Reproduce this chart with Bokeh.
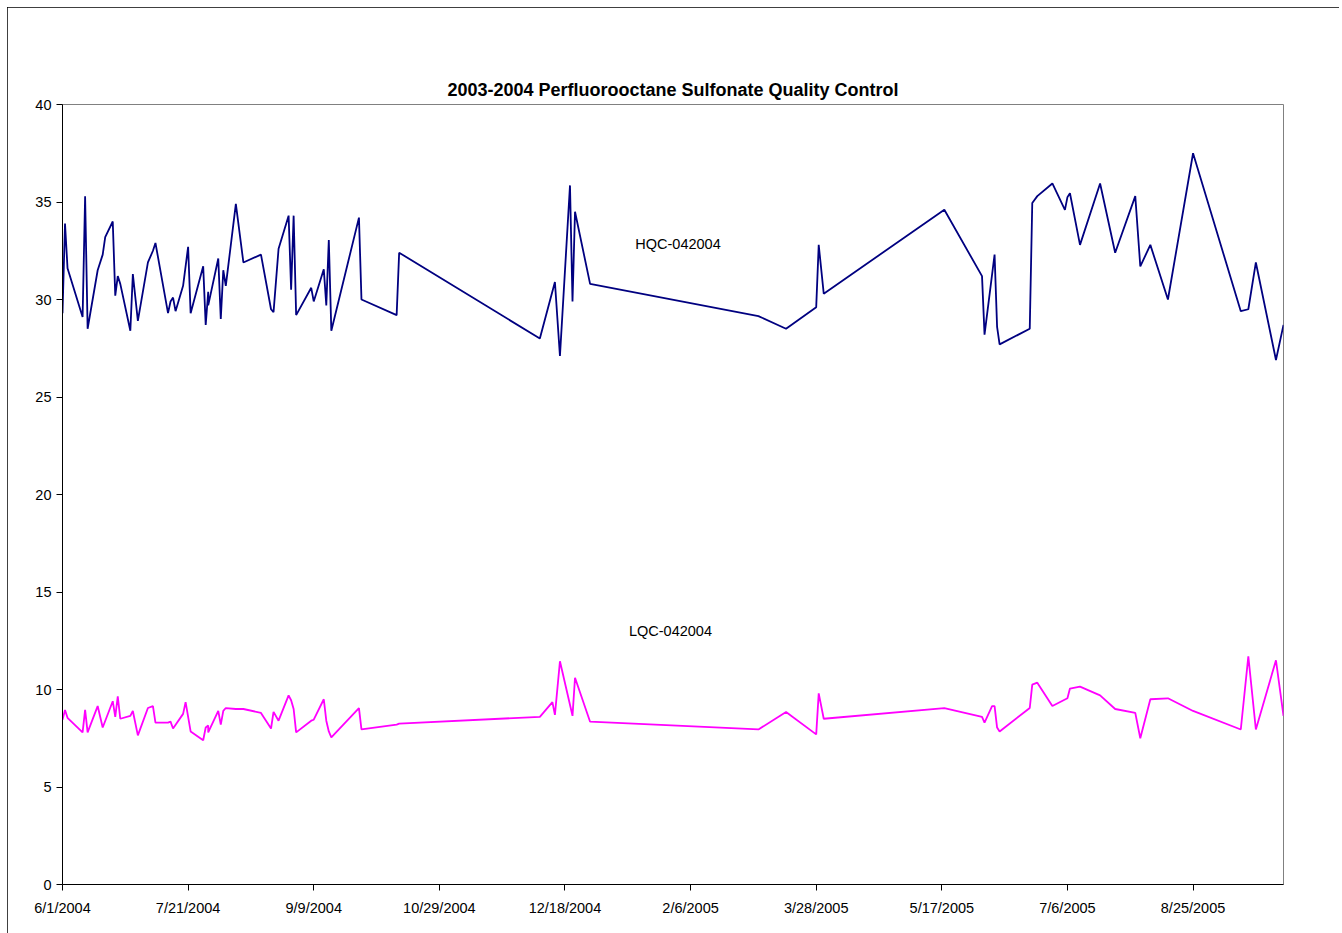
from datetime import datetime, timedelta
import pandas as pd
from bokeh.plotting import figure
from bokeh.models import Range1d, FixedTicker, CustomJSTickFormatter, Label, Title
from bokeh.embed import file_html
from bokeh.resources import INLINE

title_text = "2003-2004 Perfluorooctane Sulfonate Quality Control"

hqc_name = "HQC-042004"
hqc_dates = [
    "6/1/2004", "6/2/2004", "6/3/2004", "6/9/2004", "6/10/2004", "6/11/2004", "6/15/2004",
    "6/17/2004", "6/18/2004", "6/21/2004", "6/22/2004", "6/23/2004", "6/24/2004", "6/28/2004",
    "6/29/2004", "7/1/2004", "7/5/2004", "7/7/2004", "7/8/2004", "7/13/2004", "7/14/2004",
    "7/15/2004", "7/16/2004", "7/19/2004", "7/21/2004", "7/22/2004", "7/27/2004", "7/28/2004",
    "7/29/2004", "7/29/2004", "8/2/2004", "8/3/2004", "8/4/2004", "8/5/2004", "8/9/2004",
    "8/12/2004", "8/19/2004", "8/23/2004", "8/24/2004", "8/26/2004", "8/30/2004", "8/31/2004",
    "9/1/2004", "9/2/2004", "9/8/2004", "9/9/2004", "9/13/2004", "9/14/2004", "9/15/2004",
    "9/16/2004", "9/27/2004", "9/28/2004", "10/12/2004", "10/13/2004", "12/8/2004",
    "12/14/2004", "12/16/2004", "12/20/2004", "12/21/2004", "12/22/2004", "12/28/2004",
    "3/5/2005", "3/16/2005", "3/28/2005", "3/29/2005", "3/31/2005", "5/18/2005", "6/2/2005",
    "6/3/2005", "6/7/2005", "6/8/2005", "6/9/2005", "6/21/2005", "6/22/2005", "6/24/2005",
    "6/30/2005", "7/5/2005", "7/6/2005", "7/7/2005", "7/11/2005", "7/19/2005", "7/25/2005",
    "8/2/2005", "8/4/2005", "8/8/2005", "8/15/2005", "8/25/2005", "9/13/2005", "9/16/2005",
    "9/19/2005", "9/27/2005", "9/30/2005",
]
hqc_values = [
    29.3, 33.9, 31.6, 29.1, 35.3, 28.5, 31.5,
    32.3, 33.2, 34.0, 30.2, 31.2, 30.8, 28.4,
    31.3, 28.9, 31.9, 32.5, 32.9, 29.3, 29.9,
    30.1, 29.4, 30.7, 32.7, 29.3, 31.7, 28.7,
    30.4, 29.7, 32.1, 29.0, 31.5, 30.7, 34.9,
    31.9, 32.3, 29.5, 29.35, 32.6, 34.3, 30.5,
    34.3, 29.2, 30.6, 29.9, 31.55, 29.7, 33.05,
    28.4, 34.2, 30.0, 29.2, 32.4, 28.0,
    30.9, 27.1, 35.85, 29.9, 34.5, 30.8,
    29.15, 28.5, 29.6, 32.8, 30.3, 34.6, 31.2,
    28.2, 32.3, 28.6, 27.7, 28.5, 34.95, 35.3,
    35.95, 34.6, 35.25, 35.45, 32.8, 35.95, 32.4,
    35.3, 31.7, 32.8, 30.0, 37.5, 29.4, 29.5,
    31.9, 26.9, 28.7,
]

lqc_name = "LQC-042004"
lqc_dates = [
    "6/1/2004", "6/2/2004", "6/3/2004", "6/9/2004", "6/10/2004", "6/11/2004", "6/15/2004",
    "6/17/2004", "6/21/2004", "6/22/2004", "6/23/2004", "6/24/2004", "6/28/2004", "6/29/2004",
    "7/1/2004", "7/5/2004", "7/7/2004", "7/8/2004", "7/13/2004", "7/14/2004", "7/15/2004",
    "7/19/2004", "7/20/2004", "7/22/2004", "7/27/2004", "7/28/2004", "7/29/2004", "7/29/2004",
    "8/2/2004", "8/3/2004", "8/4/2004", "8/5/2004", "8/9/2004", "8/12/2004", "8/19/2004",
    "8/23/2004", "8/24/2004", "8/26/2004", "8/30/2004", "8/31/2004", "9/1/2004", "9/2/2004",
    "9/8/2004", "9/9/2004", "9/13/2004", "9/14/2004", "9/15/2004", "9/16/2004", "9/27/2004",
    "9/28/2004", "10/12/2004", "10/13/2004", "12/8/2004", "12/13/2004", "12/14/2004",
    "12/16/2004", "12/21/2004", "12/22/2004", "12/28/2004", "3/5/2005", "3/16/2005",
    "3/28/2005", "3/29/2005", "3/31/2005", "5/18/2005", "6/2/2005", "6/3/2005", "6/6/2005",
    "6/7/2005", "6/8/2005", "6/9/2005", "6/21/2005", "6/22/2005", "6/24/2005", "6/30/2005",
    "7/6/2005", "7/7/2005", "7/11/2005", "7/19/2005", "7/25/2005", "8/2/2005", "8/4/2005",
    "8/8/2005", "8/15/2005", "8/25/2005", "9/13/2005", "9/16/2005", "9/19/2005", "9/27/2005",
    "9/30/2005",
]
lqc_values = [
    8.45, 8.95, 8.55, 7.8, 8.95, 7.8, 9.15,
    8.05, 9.4, 8.6, 9.65, 8.5, 8.65, 8.9,
    7.65, 9.05, 9.15, 8.3, 8.3, 8.35, 8.0,
    8.75, 9.35, 7.85, 7.4, 8.05, 8.15, 7.8,
    8.9, 8.2, 8.9, 9.05, 9.0, 9.0, 8.8,
    8.0, 8.85, 8.4, 9.7, 9.45, 9.0, 7.8,
    8.4, 8.45, 9.5, 8.4, 7.85, 7.55, 9.05,
    7.95, 8.2, 8.25, 8.6, 9.35, 8.7,
    11.45, 8.65, 10.6, 8.35, 7.95, 8.85,
    7.7, 9.8, 8.5, 9.05, 8.6, 8.3, 9.15,
    9.15, 8.05, 7.85, 9.05, 10.25, 10.35, 9.15,
    9.55, 10.05, 10.15, 9.7, 9.0, 8.8, 7.5,
    9.5, 9.55, 8.9, 7.95, 11.7, 7.95, 11.5,
    8.65,
]

y_ticks = [0, 5, 10, 15, 20, 25, 30, 35, 40]
x_start = "6/1/2004"
x_end = "9/30/2005"
x_tick_step_days = 50

FONT = "Liberation Sans"

fmt = "%m/%d/%Y"
hx = pd.to_datetime(hqc_dates, format=fmt)
lx = pd.to_datetime(lqc_dates, format=fmt)
xs = datetime.strptime(x_start, fmt)
xe = datetime.strptime(x_end, fmt)

p = figure(
    width=1332, height=926,
    x_axis_type="datetime",
    output_backend="svg", toolbar_location=None,
    x_range=Range1d(xs, xe), y_range=Range1d(0, 40),
    min_border_left=55, min_border_right=56, min_border_top=97, min_border_bottom=49,
)
p.title = None
p.styles = {"margin-left": "7px", "margin-top": "7px",
            "outline": "1px solid #000000", "outline-offset": "-1px"}
p.background_fill_color = "white"
p.border_fill_color = "white"
p.outline_line_color = "#808080"
p.outline_line_width = 1
p.xgrid.visible = False
p.ygrid.visible = False

# the title first, then an invisible spacer (placed between it and the plot frame)
p.add_layout(Title(text=title_text, align="center", text_font=FONT, text_font_size="18px",
                   text_font_style="bold", text_color="black", standoff=10), "above")
p.add_layout(Title(text=".", text_font=FONT, text_font_size="10px", standoff=35,
                   text_alpha=0), "above")

p.line(hx, hqc_values, line_color="#000080", line_width=1.8)
p.line(lx, lqc_values, line_color="#FF00FF", line_width=1.8)

# x axis
ticks = []
t = xs
while t <= xe:
    ticks.append(pd.Timestamp(t).value / 1e6)
    t = t + timedelta(days=x_tick_step_days)
p.xaxis.ticker = FixedTicker(ticks=ticks)
p.xaxis.formatter = CustomJSTickFormatter(code="""
const d = new Date(tick);
return (d.getUTCMonth()+1) + '/' + d.getUTCDate() + '/' + d.getUTCFullYear();
""")
p.yaxis.ticker = FixedTicker(ticks=y_ticks)

for ax in (p.xaxis[0], p.yaxis[0]):
    ax.axis_line_color = "black"
    ax.axis_line_width = 1
    ax.major_tick_line_color = "black"
    ax.major_tick_out = 6
    ax.major_tick_in = 0
    ax.minor_tick_out = 0
    ax.minor_tick_in = 0
    ax.major_label_text_font = FONT
    ax.major_label_text_font_size = "14.5px"
    ax.major_label_text_color = "black"
p.xaxis.major_label_standoff = 9
p.yaxis.major_label_standoff = 5

p.add_layout(Label(x=datetime(2005, 2, 1), y=32.85, text=hqc_name, text_font=FONT,
                   text_font_size="14.5px", text_align="center", text_baseline="middle",
                   text_color="black"))
p.add_layout(Label(x=datetime(2005, 1, 29), y=13.0, text=lqc_name, text_font=FONT,
                   text_font_size="14.5px", text_align="center", text_baseline="middle",
                   text_color="black"))

open("out.html", "w").write(file_html(p, INLINE))
